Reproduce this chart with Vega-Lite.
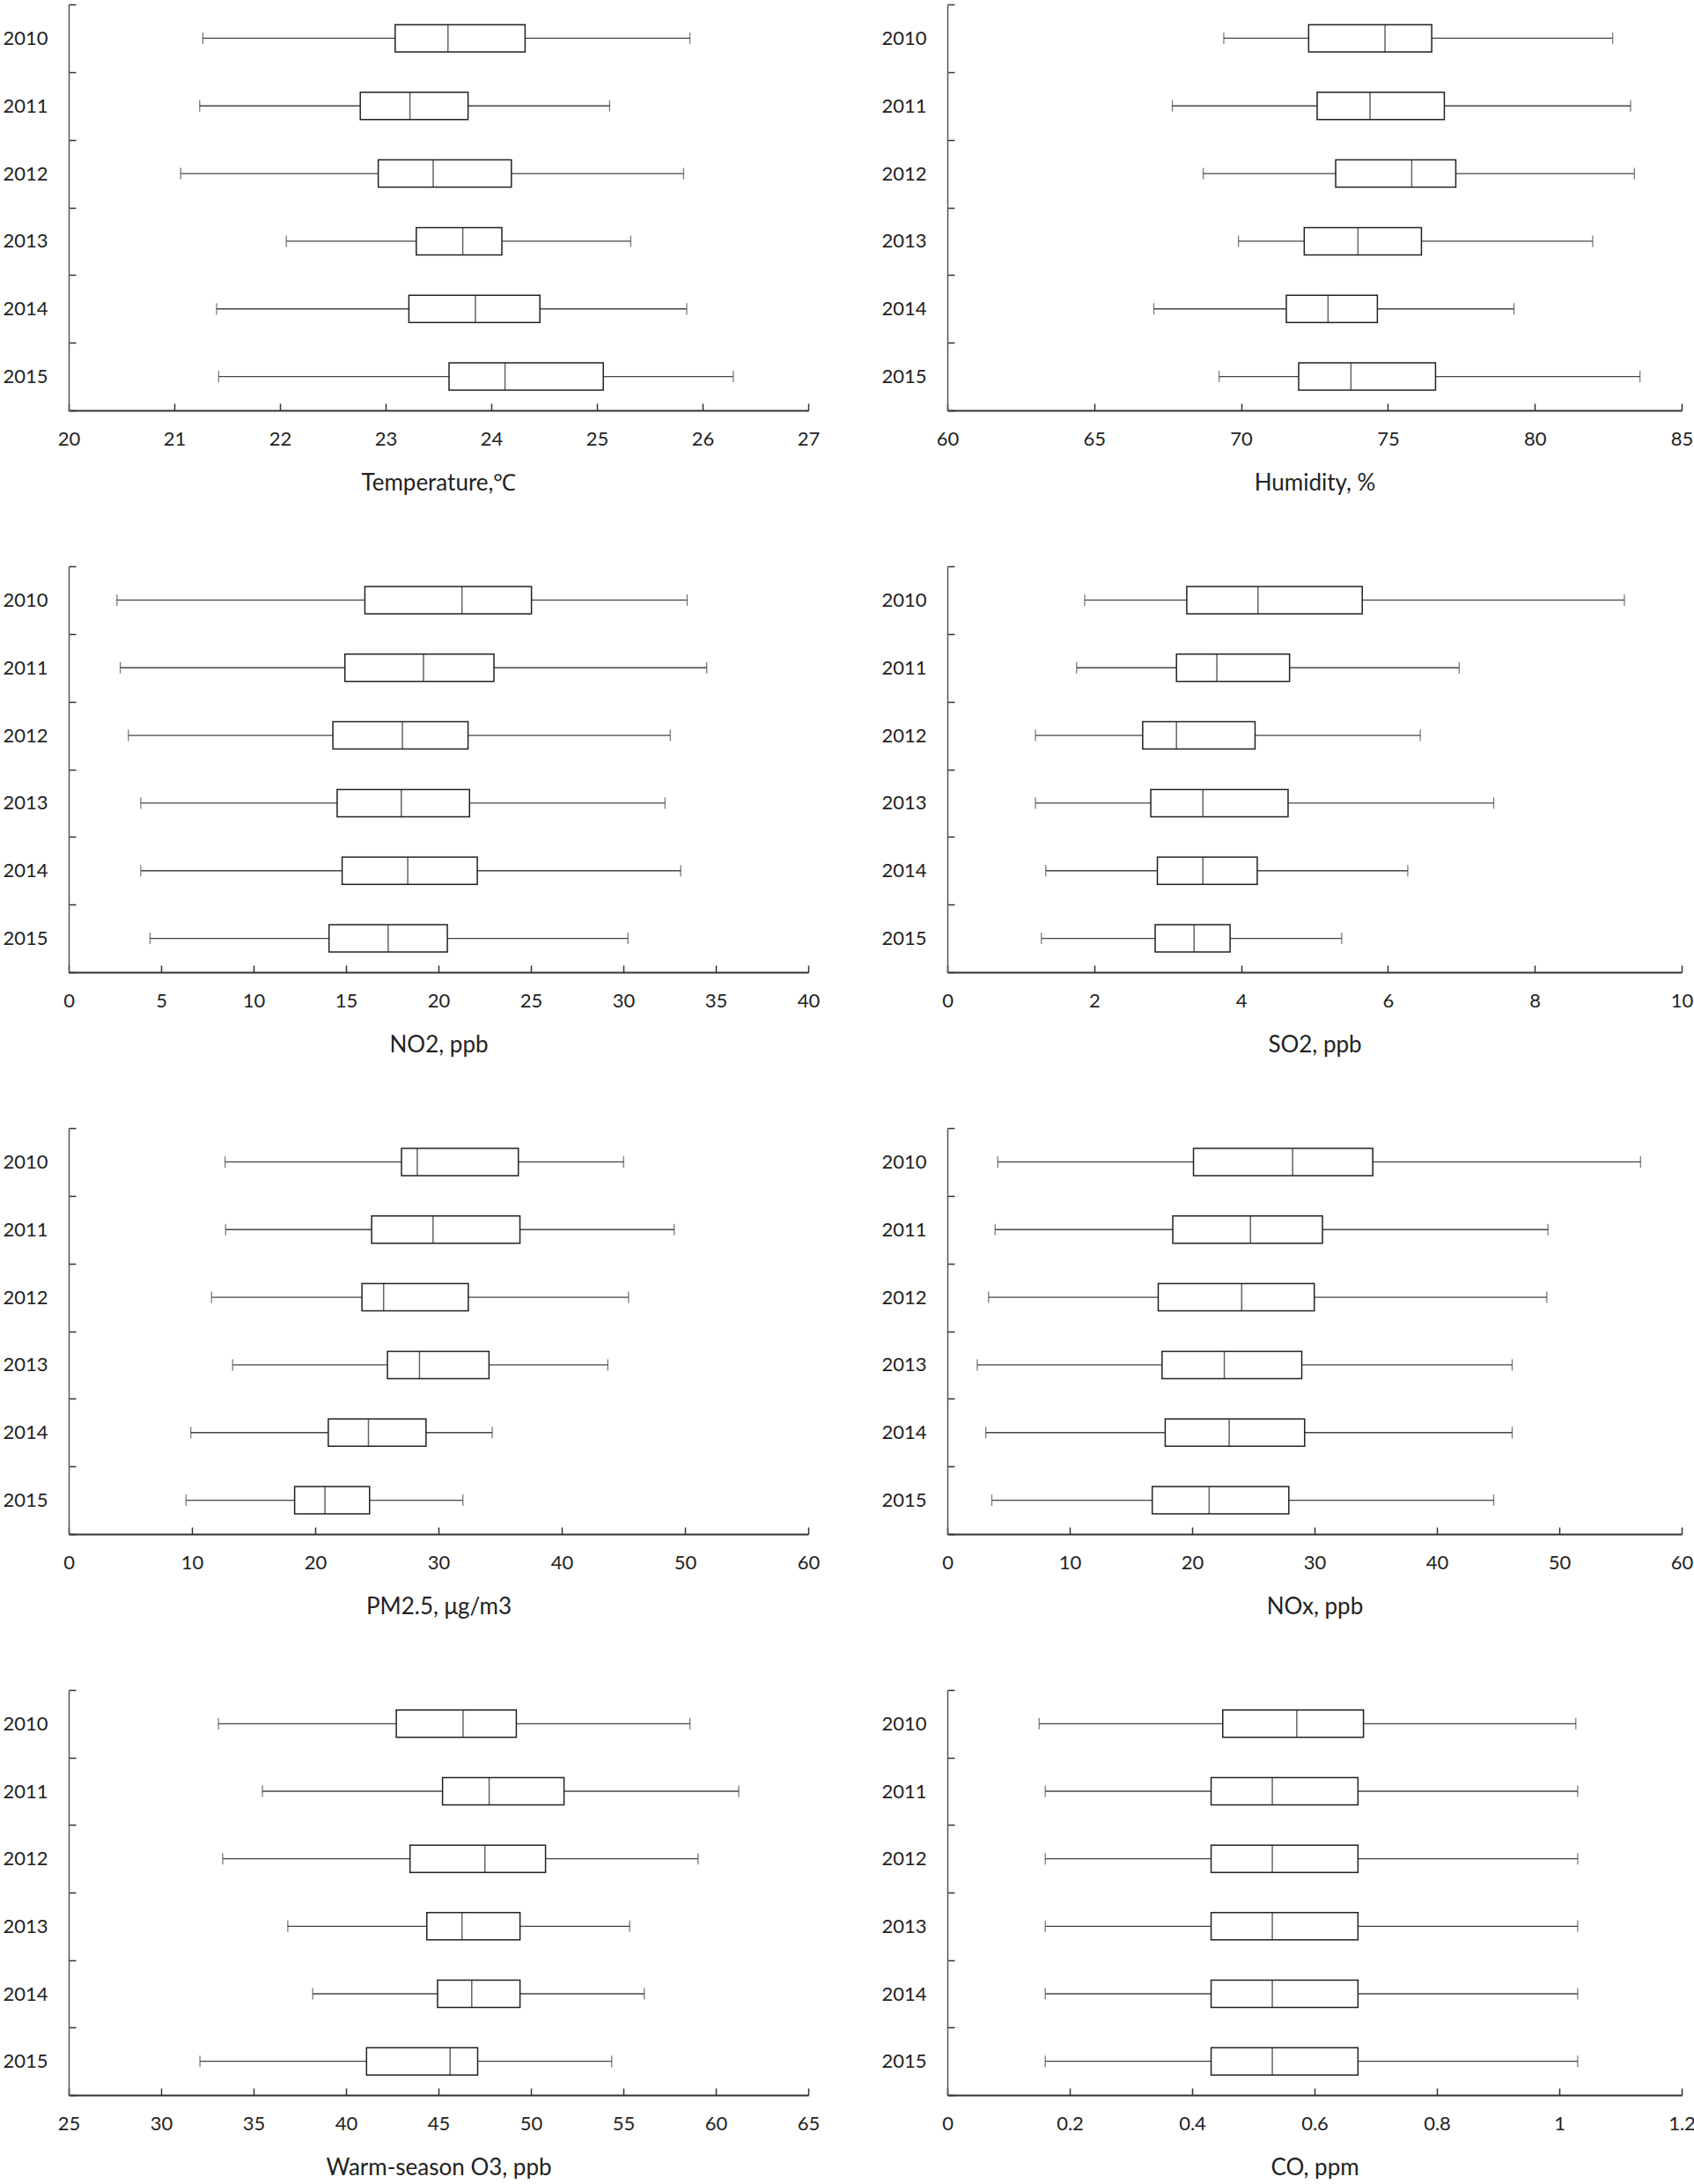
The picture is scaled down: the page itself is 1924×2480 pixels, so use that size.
{
  "$schema": "https://vega.github.io/schema/vega-lite/v6.json",
  "background": "white",
  "padding": {"left": 2, "top": -6, "right": 0, "bottom": 0},
  "datasets": {
    "temp": [
      {"year": "2010", "min": 21.27, "q1": 23.09, "med": 23.59, "q3": 24.32, "max": 25.88},
      {"year": "2011", "min": 21.24, "q1": 22.76, "med": 23.23, "q3": 23.78, "max": 25.12},
      {"year": "2012", "min": 21.06, "q1": 22.93, "med": 23.45, "q3": 24.19, "max": 25.82},
      {"year": "2013", "min": 22.06, "q1": 23.29, "med": 23.73, "q3": 24.10, "max": 25.32},
      {"year": "2014", "min": 21.40, "q1": 23.22, "med": 23.85, "q3": 24.46, "max": 25.85},
      {"year": "2015", "min": 21.42, "q1": 23.60, "med": 24.13, "q3": 25.06, "max": 26.29}
    ],
    "hum": [
      {"year": "2010", "min": 69.41, "q1": 72.30, "med": 74.90, "q3": 76.49, "max": 82.65},
      {"year": "2011", "min": 67.66, "q1": 72.59, "med": 74.39, "q3": 76.92, "max": 83.26},
      {"year": "2012", "min": 68.71, "q1": 73.22, "med": 75.81, "q3": 77.31, "max": 83.39},
      {"year": "2013", "min": 69.91, "q1": 72.15, "med": 73.98, "q3": 76.14, "max": 81.97},
      {"year": "2014", "min": 67.03, "q1": 71.54, "med": 72.96, "q3": 74.64, "max": 79.29},
      {"year": "2015", "min": 69.25, "q1": 71.96, "med": 73.74, "q3": 76.62, "max": 83.58}
    ],
    "no2": [
      {"year": "2010", "min": 2.61, "q1": 16.02, "med": 21.27, "q3": 25.03, "max": 33.45},
      {"year": "2011", "min": 2.79, "q1": 14.94, "med": 19.19, "q3": 23.00, "max": 34.51},
      {"year": "2012", "min": 3.23, "q1": 14.29, "med": 18.05, "q3": 21.60, "max": 32.54},
      {"year": "2013", "min": 3.90, "q1": 14.52, "med": 17.99, "q3": 21.68, "max": 32.25},
      {"year": "2014", "min": 3.90, "q1": 14.79, "med": 18.34, "q3": 22.10, "max": 33.10},
      {"year": "2015", "min": 4.40, "q1": 14.08, "med": 17.28, "q3": 20.48, "max": 30.25}
    ],
    "so2": [
      {"year": "2010", "min": 1.87, "q1": 3.26, "med": 4.23, "q3": 5.65, "max": 9.22},
      {"year": "2011", "min": 1.76, "q1": 3.12, "med": 3.67, "q3": 4.66, "max": 6.97},
      {"year": "2012", "min": 1.20, "q1": 2.66, "med": 3.12, "q3": 4.19, "max": 6.44},
      {"year": "2013", "min": 1.20, "q1": 2.77, "med": 3.48, "q3": 4.64, "max": 7.44},
      {"year": "2014", "min": 1.34, "q1": 2.86, "med": 3.48, "q3": 4.22, "max": 6.27},
      {"year": "2015", "min": 1.28, "q1": 2.83, "med": 3.36, "q3": 3.85, "max": 5.37}
    ],
    "pm": [
      {"year": "2010", "min": 12.69, "q1": 27.0, "med": 28.28, "q3": 36.48, "max": 45.02},
      {"year": "2011", "min": 12.73, "q1": 24.58, "med": 29.56, "q3": 36.61, "max": 49.12},
      {"year": "2012", "min": 11.59, "q1": 23.79, "med": 25.55, "q3": 32.42, "max": 45.42},
      {"year": "2013", "min": 13.30, "q1": 25.86, "med": 28.46, "q3": 34.10, "max": 43.74},
      {"year": "2014", "min": 9.91, "q1": 21.06, "med": 24.32, "q3": 28.99, "max": 34.36},
      {"year": "2015", "min": 9.52, "q1": 18.33, "med": 20.79, "q3": 24.41, "max": 31.98}
    ],
    "nox": [
      {"year": "2010", "min": 4.12, "q1": 20.11, "med": 28.21, "q3": 34.76, "max": 56.64},
      {"year": "2011", "min": 3.90, "q1": 18.42, "med": 24.76, "q3": 30.65, "max": 49.07},
      {"year": "2012", "min": 3.37, "q1": 17.23, "med": 24.05, "q3": 29.98, "max": 48.98},
      {"year": "2013", "min": 2.44, "q1": 17.54, "med": 22.63, "q3": 28.96, "max": 46.15},
      {"year": "2014", "min": 3.14, "q1": 17.80, "med": 23.03, "q3": 29.19, "max": 46.15},
      {"year": "2015", "min": 3.63, "q1": 16.74, "med": 21.39, "q3": 27.90, "max": 44.64}
    ],
    "o3": [
      {"year": "2010", "min": 33.10, "q1": 42.72, "med": 46.33, "q3": 49.21, "max": 58.60},
      {"year": "2011", "min": 35.48, "q1": 45.22, "med": 47.74, "q3": 51.79, "max": 61.24},
      {"year": "2012", "min": 33.33, "q1": 43.46, "med": 47.51, "q3": 50.79, "max": 59.04},
      {"year": "2013", "min": 36.85, "q1": 44.37, "med": 46.27, "q3": 49.41, "max": 55.34},
      {"year": "2014", "min": 38.20, "q1": 44.95, "med": 46.80, "q3": 49.41, "max": 56.13},
      {"year": "2015", "min": 32.10, "q1": 41.11, "med": 45.63, "q3": 47.12, "max": 54.37}
    ],
    "co": [
      {"year": "2010", "min": 0.150, "q1": 0.450, "med": 0.571, "q3": 0.680, "max": 1.027},
      {"year": "2011", "min": 0.160, "q1": 0.431, "med": 0.531, "q3": 0.671, "max": 1.030},
      {"year": "2012", "min": 0.160, "q1": 0.431, "med": 0.531, "q3": 0.671, "max": 1.030},
      {"year": "2013", "min": 0.160, "q1": 0.431, "med": 0.531, "q3": 0.671, "max": 1.030},
      {"year": "2014", "min": 0.160, "q1": 0.431, "med": 0.531, "q3": 0.671, "max": 1.030},
      {"year": "2015", "min": 0.160, "q1": 0.431, "med": 0.531, "q3": 0.671, "max": 1.030}
    ]
  },
  "spacing": 71,
  "vconcat": [
    {"spacing": 69, "hconcat": [
      {"width": 840, "height": 461, "data": {"name": "temp"},
       "encoding": {"y": {"field": "year", "type": "nominal", "title": null, "scale": {"paddingInner": 0, "paddingOuter": 0}}},
       "layer": [
        {"mark": {"type": "rule", "color": "#444", "strokeWidth": 1.3}, "encoding": {"x": {"field": "min", "type": "quantitative", "scale": {"domain": [20, 27], "nice": false, "zero": false}, "axis": {"values": [20,21,22,23,24,25,26,27], "format": "~r", "title": "Temperature,℃"}}, "x2": {"field": "q1"}}},
        {"mark": {"type": "rule", "color": "#444", "strokeWidth": 1.3}, "encoding": {"x": {"field": "q3", "type": "quantitative"}, "x2": {"field": "max"}}},
        {"mark": {"type": "tick", "size": 13, "thickness": 1.3, "color": "#444"}, "encoding": {"x": {"field": "min", "type": "quantitative"}}},
        {"mark": {"type": "tick", "size": 13, "thickness": 1.3, "color": "#444"}, "encoding": {"x": {"field": "max", "type": "quantitative"}}},
        {"mark": {"type": "bar", "size": 31, "fill": "white", "stroke": "#222", "strokeWidth": 1.5}, "encoding": {"x": {"field": "q1", "type": "quantitative"}, "x2": {"field": "q3"}}},
        {"mark": {"type": "tick", "size": 31, "thickness": 1.5, "color": "#222"}, "encoding": {"x": {"field": "med", "type": "quantitative"}}}
       ]},
      {"width": 834, "height": 461, "data": {"name": "hum"},
       "encoding": {"y": {"field": "year", "type": "nominal", "title": null, "scale": {"paddingInner": 0, "paddingOuter": 0}}},
       "layer": [
        {"mark": {"type": "rule", "color": "#444", "strokeWidth": 1.3}, "encoding": {"x": {"field": "min", "type": "quantitative", "scale": {"domain": [60, 85], "nice": false, "zero": false}, "axis": {"values": [60,65,70,75,80,85], "format": "~r", "title": "Humidity, %"}}, "x2": {"field": "q1"}}},
        {"mark": {"type": "rule", "color": "#444", "strokeWidth": 1.3}, "encoding": {"x": {"field": "q3", "type": "quantitative"}, "x2": {"field": "max"}}},
        {"mark": {"type": "tick", "size": 13, "thickness": 1.3, "color": "#444"}, "encoding": {"x": {"field": "min", "type": "quantitative"}}},
        {"mark": {"type": "tick", "size": 13, "thickness": 1.3, "color": "#444"}, "encoding": {"x": {"field": "max", "type": "quantitative"}}},
        {"mark": {"type": "bar", "size": 31, "fill": "white", "stroke": "#222", "strokeWidth": 1.5}, "encoding": {"x": {"field": "q1", "type": "quantitative"}, "x2": {"field": "q3"}}},
        {"mark": {"type": "tick", "size": 31, "thickness": 1.5, "color": "#222"}, "encoding": {"x": {"field": "med", "type": "quantitative"}}}
       ]}
    ]},
    {"spacing": 69, "hconcat": [
      {"width": 840, "height": 461, "data": {"name": "no2"},
       "encoding": {"y": {"field": "year", "type": "nominal", "title": null, "scale": {"paddingInner": 0, "paddingOuter": 0}}},
       "layer": [
        {"mark": {"type": "rule", "color": "#444", "strokeWidth": 1.3}, "encoding": {"x": {"field": "min", "type": "quantitative", "scale": {"domain": [0, 40], "nice": false, "zero": false}, "axis": {"values": [0,5,10,15,20,25,30,35,40], "format": "~r", "title": "NO2, ppb"}}, "x2": {"field": "q1"}}},
        {"mark": {"type": "rule", "color": "#444", "strokeWidth": 1.3}, "encoding": {"x": {"field": "q3", "type": "quantitative"}, "x2": {"field": "max"}}},
        {"mark": {"type": "tick", "size": 13, "thickness": 1.3, "color": "#444"}, "encoding": {"x": {"field": "min", "type": "quantitative"}}},
        {"mark": {"type": "tick", "size": 13, "thickness": 1.3, "color": "#444"}, "encoding": {"x": {"field": "max", "type": "quantitative"}}},
        {"mark": {"type": "bar", "size": 31, "fill": "white", "stroke": "#222", "strokeWidth": 1.5}, "encoding": {"x": {"field": "q1", "type": "quantitative"}, "x2": {"field": "q3"}}},
        {"mark": {"type": "tick", "size": 31, "thickness": 1.5, "color": "#222"}, "encoding": {"x": {"field": "med", "type": "quantitative"}}}
       ]},
      {"width": 834, "height": 461, "data": {"name": "so2"},
       "encoding": {"y": {"field": "year", "type": "nominal", "title": null, "scale": {"paddingInner": 0, "paddingOuter": 0}}},
       "layer": [
        {"mark": {"type": "rule", "color": "#444", "strokeWidth": 1.3}, "encoding": {"x": {"field": "min", "type": "quantitative", "scale": {"domain": [0, 10], "nice": false, "zero": false}, "axis": {"values": [0,2,4,6,8,10], "format": "~r", "title": "SO2, ppb"}}, "x2": {"field": "q1"}}},
        {"mark": {"type": "rule", "color": "#444", "strokeWidth": 1.3}, "encoding": {"x": {"field": "q3", "type": "quantitative"}, "x2": {"field": "max"}}},
        {"mark": {"type": "tick", "size": 13, "thickness": 1.3, "color": "#444"}, "encoding": {"x": {"field": "min", "type": "quantitative"}}},
        {"mark": {"type": "tick", "size": 13, "thickness": 1.3, "color": "#444"}, "encoding": {"x": {"field": "max", "type": "quantitative"}}},
        {"mark": {"type": "bar", "size": 31, "fill": "white", "stroke": "#222", "strokeWidth": 1.5}, "encoding": {"x": {"field": "q1", "type": "quantitative"}, "x2": {"field": "q3"}}},
        {"mark": {"type": "tick", "size": 31, "thickness": 1.5, "color": "#222"}, "encoding": {"x": {"field": "med", "type": "quantitative"}}}
       ]}
    ]},
    {"spacing": 69, "hconcat": [
      {"width": 840, "height": 461, "data": {"name": "pm"},
       "encoding": {"y": {"field": "year", "type": "nominal", "title": null, "scale": {"paddingInner": 0, "paddingOuter": 0}}},
       "layer": [
        {"mark": {"type": "rule", "color": "#444", "strokeWidth": 1.3}, "encoding": {"x": {"field": "min", "type": "quantitative", "scale": {"domain": [0, 60], "nice": false, "zero": false}, "axis": {"values": [0,10,20,30,40,50,60], "format": "~r", "title": "PM2.5, μg/m3"}}, "x2": {"field": "q1"}}},
        {"mark": {"type": "rule", "color": "#444", "strokeWidth": 1.3}, "encoding": {"x": {"field": "q3", "type": "quantitative"}, "x2": {"field": "max"}}},
        {"mark": {"type": "tick", "size": 13, "thickness": 1.3, "color": "#444"}, "encoding": {"x": {"field": "min", "type": "quantitative"}}},
        {"mark": {"type": "tick", "size": 13, "thickness": 1.3, "color": "#444"}, "encoding": {"x": {"field": "max", "type": "quantitative"}}},
        {"mark": {"type": "bar", "size": 31, "fill": "white", "stroke": "#222", "strokeWidth": 1.5}, "encoding": {"x": {"field": "q1", "type": "quantitative"}, "x2": {"field": "q3"}}},
        {"mark": {"type": "tick", "size": 31, "thickness": 1.5, "color": "#222"}, "encoding": {"x": {"field": "med", "type": "quantitative"}}}
       ]},
      {"width": 834, "height": 461, "data": {"name": "nox"},
       "encoding": {"y": {"field": "year", "type": "nominal", "title": null, "scale": {"paddingInner": 0, "paddingOuter": 0}}},
       "layer": [
        {"mark": {"type": "rule", "color": "#444", "strokeWidth": 1.3}, "encoding": {"x": {"field": "min", "type": "quantitative", "scale": {"domain": [0, 60], "nice": false, "zero": false}, "axis": {"values": [0,10,20,30,40,50,60], "format": "~r", "title": "NOx, ppb"}}, "x2": {"field": "q1"}}},
        {"mark": {"type": "rule", "color": "#444", "strokeWidth": 1.3}, "encoding": {"x": {"field": "q3", "type": "quantitative"}, "x2": {"field": "max"}}},
        {"mark": {"type": "tick", "size": 13, "thickness": 1.3, "color": "#444"}, "encoding": {"x": {"field": "min", "type": "quantitative"}}},
        {"mark": {"type": "tick", "size": 13, "thickness": 1.3, "color": "#444"}, "encoding": {"x": {"field": "max", "type": "quantitative"}}},
        {"mark": {"type": "bar", "size": 31, "fill": "white", "stroke": "#222", "strokeWidth": 1.5}, "encoding": {"x": {"field": "q1", "type": "quantitative"}, "x2": {"field": "q3"}}},
        {"mark": {"type": "tick", "size": 31, "thickness": 1.5, "color": "#222"}, "encoding": {"x": {"field": "med", "type": "quantitative"}}}
       ]}
    ]},
    {"spacing": 69, "hconcat": [
      {"width": 840, "height": 460, "data": {"name": "o3"},
       "encoding": {"y": {"field": "year", "type": "nominal", "title": null, "scale": {"paddingInner": 0, "paddingOuter": 0}}},
       "layer": [
        {"mark": {"type": "rule", "color": "#444", "strokeWidth": 1.3}, "encoding": {"x": {"field": "min", "type": "quantitative", "scale": {"domain": [25, 65], "nice": false, "zero": false}, "axis": {"values": [25,30,35,40,45,50,55,60,65], "format": "~r", "title": "Warm-season O3, ppb"}}, "x2": {"field": "q1"}}},
        {"mark": {"type": "rule", "color": "#444", "strokeWidth": 1.3}, "encoding": {"x": {"field": "q3", "type": "quantitative"}, "x2": {"field": "max"}}},
        {"mark": {"type": "tick", "size": 13, "thickness": 1.3, "color": "#444"}, "encoding": {"x": {"field": "min", "type": "quantitative"}}},
        {"mark": {"type": "tick", "size": 13, "thickness": 1.3, "color": "#444"}, "encoding": {"x": {"field": "max", "type": "quantitative"}}},
        {"mark": {"type": "bar", "size": 31, "fill": "white", "stroke": "#222", "strokeWidth": 1.5}, "encoding": {"x": {"field": "q1", "type": "quantitative"}, "x2": {"field": "q3"}}},
        {"mark": {"type": "tick", "size": 31, "thickness": 1.5, "color": "#222"}, "encoding": {"x": {"field": "med", "type": "quantitative"}}}
       ]},
      {"width": 834, "height": 460, "data": {"name": "co"},
       "encoding": {"y": {"field": "year", "type": "nominal", "title": null, "scale": {"paddingInner": 0, "paddingOuter": 0}}},
       "layer": [
        {"mark": {"type": "rule", "color": "#444", "strokeWidth": 1.3}, "encoding": {"x": {"field": "min", "type": "quantitative", "scale": {"domain": [0, 1.2], "nice": false, "zero": false}, "axis": {"values": [0,0.2,0.4,0.6,0.8,1,1.2], "format": "~r", "title": "CO, ppm"}}, "x2": {"field": "q1"}}},
        {"mark": {"type": "rule", "color": "#444", "strokeWidth": 1.3}, "encoding": {"x": {"field": "q3", "type": "quantitative"}, "x2": {"field": "max"}}},
        {"mark": {"type": "tick", "size": 13, "thickness": 1.3, "color": "#444"}, "encoding": {"x": {"field": "min", "type": "quantitative"}}},
        {"mark": {"type": "tick", "size": 13, "thickness": 1.3, "color": "#444"}, "encoding": {"x": {"field": "max", "type": "quantitative"}}},
        {"mark": {"type": "bar", "size": 31, "fill": "white", "stroke": "#222", "strokeWidth": 1.5}, "encoding": {"x": {"field": "q1", "type": "quantitative"}, "x2": {"field": "q3"}}},
        {"mark": {"type": "tick", "size": 31, "thickness": 1.5, "color": "#222"}, "encoding": {"x": {"field": "med", "type": "quantitative"}}}
       ]}
    ]}
  ],
  "config": {
    "view": {"stroke": null},
    "font": "Lato, sans-serif",
    "axis": {
      "labelFont": "Lato, sans-serif",
      "titleFont": "Lato, sans-serif",
      "labelFontSize": 22,
      "titleFontSize": 26,
      "titleFontWeight": "normal",
      "labelColor": "#222",
      "titleColor": "#222",
      "domainColor": "#333",
      "tickColor": "#333",
      "tickWidth": 1.5,
      "grid": false
    },
    "axisY": {"tickBand": "extent", "tickSize": -8, "labelPadding": 32, "domainWidth": 1.5, "domainColor": "#555"},
    "axisX": {"tickSize": -8, "labelPadding": 30, "titlePadding": 26, "domainWidth": 2, "labelFlush": false}
  }
}
